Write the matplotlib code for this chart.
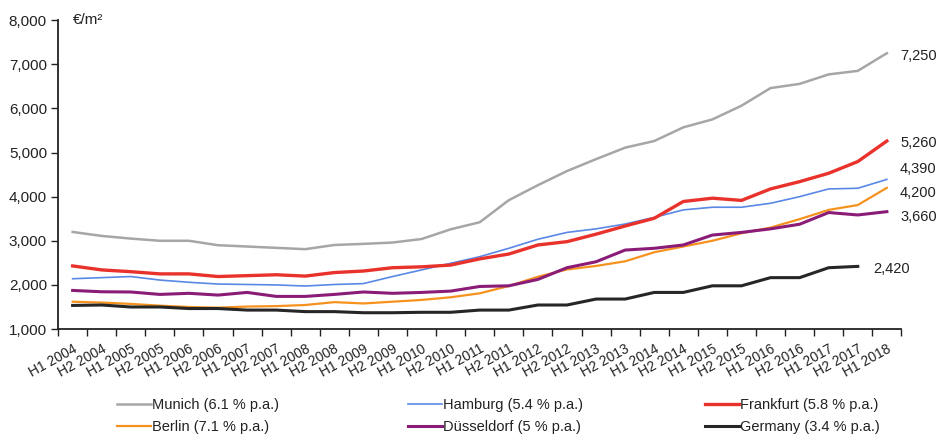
import matplotlib
matplotlib.use("Agg")
import matplotlib.pyplot as plt
import numpy as np
from matplotlib.ticker import FuncFormatter, FixedLocator

periods = [f"H{h} {y}" for y in range(2004, 2019) for h in (1, 2)][:29]

munich = [3200, 3110, 3050, 3000, 3000, 2900, 2870, 2840, 2810, 2905, 2930, 2960,
          3040, 3260, 3420, 3920, 4260, 4580, 4850, 5110, 5260, 5570, 5750, 6060,
          6460, 6555, 6770, 6850, 7250]
hamburg = [2140, 2165, 2190, 2110, 2060, 2020, 2010, 2000, 1975, 2010, 2030, 2190,
           2340, 2490, 2640, 2830, 3035, 3190, 3270, 3380, 3530, 3700, 3760, 3760,
           3850, 4000, 4175, 4190, 4390]
frankfurt = [2430, 2340, 2300, 2250, 2250, 2190, 2210, 2230, 2200, 2280, 2315, 2390,
             2410, 2450, 2590, 2700, 2905, 2980, 3150, 3335, 3510, 3890, 3965, 3915,
             4175, 4340, 4530, 4795, 5260]
berlin = [1620, 1600, 1570, 1530, 1500, 1485, 1510, 1520, 1545, 1610, 1580, 1620,
          1660, 1720, 1810, 1975, 2185, 2350, 2430, 2535, 2740, 2870, 3000, 3170,
          3300, 3490, 3700, 3810, 4200]
duesseldorf = [1875, 1845, 1840, 1785, 1810, 1770, 1830, 1740, 1740, 1785, 1840, 1810,
               1830, 1860, 1965, 1980, 2125, 2390, 2525, 2790, 2830, 2905, 3130, 3190,
               3270, 3375, 3640, 3585, 3660]
germany = [1535, 1545, 1500, 1500, 1465, 1465, 1430, 1430, 1395, 1395, 1370, 1370,
           1380, 1380, 1430, 1430, 1545, 1545, 1680, 1680, 1830, 1830, 1980, 1980,
           2165, 2165, 2390, 2420]

# name, values, colour, line width, end-label offset (points, x / y)
series = [
    ("Munich (6.1 % p.a.)", munich, "#a6a6a6", 1.8, (9.5, -2)),
    ("Hamburg (5.4 % p.a.)", hamburg, "#5a88e6", 1.2, (9.5, 7.5)),
    ("Frankfurt (5.8 % p.a.)", frankfurt, "#e8322b", 2.4, (9.5, -1.5)),
    ("Berlin (7.1 % p.a.)", berlin, "#f5921e", 1.6, (9.5, -3.8)),
    ("Düsseldorf (5 % p.a.)", duesseldorf, "#8a1c78", 2.2, (9.5, -3.8)),
    ("Germany (3.4 % p.a.)", germany, "#262626", 2.2, (11, -2)),
]

plt.rcParams["font.family"] = ["Liberation Sans", "DejaVu Sans"]

fig = plt.figure(figsize=(9.37, 4.37), dpi=100)
ax = fig.add_axes([0.062, 0.247, 0.900, 0.707])

handles = {}
for name, vals, color, lw, off in series:
    x = np.arange(len(vals))
    (ln,) = ax.plot(x, vals, color=color, lw=lw, solid_joinstyle="round")
    handles[name] = ln
    ax.annotate(f"{vals[-1]:,}", xy=(x[-1], vals[-1]),
                xytext=off, textcoords="offset points",
                ha="left", va="center", fontsize=10.5, color="#222222")

ax.set_xlim(-0.5, len(periods) - 0.5)
ax.set_ylim(1000, 8000)
ax.set_yticks(range(1000, 8001, 1000))
ax.yaxis.set_major_formatter(FuncFormatter(lambda v, p: f"{int(v):,}"))
ax.tick_params(axis="y", labelsize=11, length=5, width=1, direction="out",
               colors="#222222", pad=3)

ax.set_xticks(range(len(periods)))
ax.set_xticklabels(periods, rotation=29, ha="right", va="top",
                   rotation_mode="anchor", fontsize=10, color="#222222")
ax.xaxis.set_minor_locator(FixedLocator(np.arange(-0.5, len(periods), 1.0)))
ax.tick_params(axis="x", which="major", length=0, pad=9)
ax.tick_params(axis="x", which="minor", length=5, width=1, direction="out",
               colors="#222222")

for s in ("top", "right"):
    ax.spines[s].set_visible(False)
for s in ("left", "bottom"):
    ax.spines[s].set_linewidth(1.3)
    ax.spines[s].set_color("#222222")

ax.text(0.017, 1.0, "€/m²", transform=ax.transAxes, ha="left", va="center",
        fontsize=11, color="#222222")

# legend: three columns placed side by side
columns = [
    (117, ["Munich (6.1 % p.a.)", "Berlin (7.1 % p.a.)"]),
    (408, ["Hamburg (5.4 % p.a.)", "Düsseldorf (5 % p.a.)"]),
    (705, ["Frankfurt (5.8 % p.a.)", "Germany (3.4 % p.a.)"]),
]
for xpix, names in columns:
    leg = fig.legend([handles[k] for k in names], names, loc="upper left",
                     bbox_to_anchor=(xpix / 937, 1 - 398 / 437),
                     frameon=False, handlelength=2.3, handletextpad=0.1,
                     labelspacing=0.55, borderpad=0, borderaxespad=0,
                     prop={"size": 10.5})
    for t in leg.get_texts():
        t.set_color("#222222")

fig.savefig("out.png", dpi=100, facecolor="white")
